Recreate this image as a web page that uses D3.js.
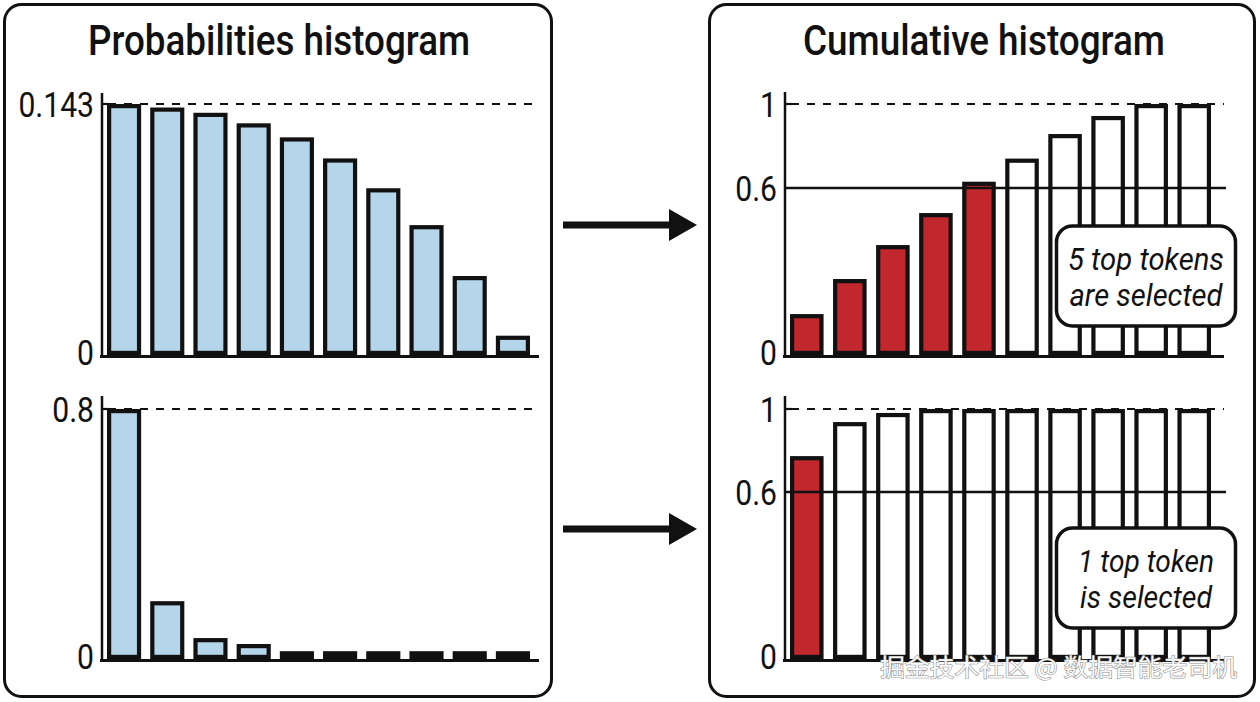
<!DOCTYPE html>
<html><head><meta charset="utf-8">
<script src="https://cdn.jsdelivr.net/npm/d3@7"></script>
<style>html,body{margin:0;padding:0;background:#fff;}svg{display:block;}</style>
</head><body>
<svg id="c" width="1260" height="702"></svg>
<script>
// ---- data ----
const tokens = ["t1","t2","t3","t4","t5","t6","t7","t8","t9","t10"];
const probsFlat = [0.143, 0.141, 0.138, 0.132, 0.124, 0.112, 0.095, 0.074, 0.045, 0.011];
const cumFlat   = [0.147, 0.273, 0.395, 0.51, 0.63, 0.74, 0.857, 0.943, 1, 1];
const probsPeak = [0.8, 0.185, 0.067, 0.048, 0.025, 0.025, 0.025, 0.025, 0.025, 0.025];
const cumPeak   = [0.773, 0.937, 0.981, 1, 1, 1, 1, 1, 1, 1];
const selectedFlat = 5, selectedPeak = 1;
const flatTicks = [0, 0.143], peakTicks = [0, 0.8];
const cumTicks = [0, 0.6, 1];
const tickFmt = {0:"0",0.143:"0.143",0.8:"0.8",0.6:"0.6",1:"1"};
const titles = ["Probabilities histogram", "Cumulative histogram"];
const notes = [["5 top tokens","are selected"],["1 top token","is selected"]];
const watermark = "掘金技术社区 @ 数据智能老司机";

const svg = d3.select("#c");
const BLUE = "#b4d5ea", RED = "#c1272d", INK = "#111";

// panels
[[4.5,4.5,547,692],[709.5,4.5,545,692]].forEach(b=>{
  svg.append("rect").attr("x",b[0]).attr("y",b[1]).attr("width",b[2]).attr("height",b[3])
    .attr("rx",17).attr("fill","#fff").attr("stroke",INK).attr("stroke-width",3);
});
// titles
svg.append("text").attr("x",279).attr("y",55).attr("text-anchor","middle")
  .attr("font-family","Roboto").attr("font-weight",500).attr("font-size",42)
  .attr("textLength",382).attr("lengthAdjust","spacingAndGlyphs").attr("fill",INK).text(titles[0]);
svg.append("text").attr("x",984).attr("y",55).attr("text-anchor","middle")
  .attr("font-family","Roboto").attr("font-weight",500).attr("font-size",42)
  .attr("textLength",362).attr("lengthAdjust","spacingAndGlyphs").attr("fill",INK).text(titles[1]);

function label(x, y, t){
  svg.append("g").attr("transform",`translate(${x},${y}) scale(0.86,1)`)
    .append("text").attr("text-anchor","end").attr("dy","0.36em")
    .attr("font-family","Roboto").attr("font-size",35).attr("fill",INK).text(t);
}

function chart(opt){
  const {values, y, x, axisX, axisTop, xEnd, ticks, fillFn, refDashed, refSolid, linesOnTop} = opt;
  const y0 = y(0);
  const drawRefs = ()=>{
    svg.append("line").attr("x1",axisX).attr("x2",xEnd).attr("y1",y(refDashed)).attr("y2",y(refDashed))
      .attr("stroke",INK).attr("stroke-width",2.2).attr("stroke-dasharray","8,8").attr("stroke-dashoffset",-6);
    if(refSolid!==undefined){
      svg.append("line").attr("x1",axisX).attr("x2",xEnd+2).attr("y1",y(refSolid)).attr("y2",y(refSolid))
        .attr("stroke",INK).attr("stroke-width",2.5);
    }
  };
  if(!linesOnTop) drawRefs();
  // bars
  const sw = 4.2;
  svg.append("g").selectAll("rect").data(values).join("rect")
    .attr("x",(d,i)=>x(tokens[i])+sw/2)
    .attr("width",x.bandwidth()-sw)
    .attr("y",d=>y(d)+sw/2)
    .attr("height",d=>Math.max(0.01, y0-y(d)-sw))
    .attr("fill",(d,i)=>fillFn(i)).attr("stroke",INK).attr("stroke-width",sw);
  if(linesOnTop) drawRefs();
  // axis
  svg.append("line").attr("x1",axisX).attr("x2",axisX).attr("y1",axisTop).attr("y2",y0+1.5)
    .attr("stroke",INK).attr("stroke-width",2.5);
  svg.append("line").attr("x1",axisX).attr("x2",axisX+7).attr("y1",y(refDashed)).attr("y2",y(refDashed))
    .attr("stroke",INK).attr("stroke-width",2.2);
  svg.append("line").attr("x1",axisX-2).attr("x2",xEnd).attr("y1",y0+1.5).attr("y2",y0+1.5)
    .attr("stroke",INK).attr("stroke-width",3);
  ticks.forEach(t=>label(axisX-8, y(t)-(t===0?3:0), tickFmt[t]));
}

const xLeft = d3.scaleBand().domain(tokens).range([107,530]).paddingInner(0.21);
const xRight = d3.scaleBand().domain(tokens).range([790,1211]).paddingInner(0.22);

chart({values:probsFlat, y:d3.scaleLinear().domain([0,0.143]).range([355,104]), x:xLeft,
  axisX:102, axisTop:93, xEnd:539, ticks:flatTicks, fillFn:()=>BLUE, refDashed:0.143});
chart({values:probsPeak, y:d3.scaleLinear().domain([0,0.8]).range([659,409]), x:xLeft,
  axisX:102, axisTop:396, xEnd:539, ticks:peakTicks, fillFn:()=>BLUE, refDashed:0.8});
chart({values:cumFlat, y:d3.scaleLinear().domain(cumTicks).range([355,188,104]), x:xRight,
  axisX:785, axisTop:92, xEnd:1224, ticks:cumTicks, fillFn:i=>i<selectedFlat?RED:"#fff", refDashed:1, refSolid:0.6, linesOnTop:true});
chart({values:cumPeak, y:d3.scaleLinear().domain(cumTicks).range([659,492,409]), x:xRight,
  axisX:785, axisTop:396, xEnd:1224, ticks:cumTicks, fillFn:i=>i<selectedPeak?RED:"#fff", refDashed:1, refSolid:0.6, linesOnTop:true});

// annotation boxes
[[226,notes[0],[156,153]],[528,notes[1],[136,132]]].forEach(([top,lines,lens])=>{
  svg.append("rect").attr("x",1056.5).attr("y",top).attr("width",179).attr("height",100)
    .attr("rx",16).attr("fill","#fff").attr("stroke",INK).attr("stroke-width",3.5);
  lines.forEach((l,i)=>{
    svg.append("text").attr("x",1146).attr("y",top+44+i*36).attr("text-anchor","middle")
      .attr("font-family","Roboto").attr("font-style","italic").attr("font-size",31)
      .attr("textLength",lens[i]).attr("lengthAdjust","spacingAndGlyphs").attr("fill",INK).text(l);
  });
});

// arrows
[225,529].forEach(yy=>{
  svg.append("path").attr("d",`M563,${yy-3.5}H669V${yy-16}L697,${yy}L669,${yy+16}V${yy+3.5}H563Z`).attr("fill",INK);
});

// watermark
svg.append("text").attr("x",1237).attr("y",676).attr("text-anchor","end")
  .attr("font-family","Noto Sans CJK SC").attr("font-size",24)
  .attr("fill","#fafafa").attr("stroke","#8c8c8c").attr("stroke-width",1.1)
  .attr("paint-order","stroke").attr("textLength",357).attr("lengthAdjust","spacingAndGlyphs")
  .text(watermark);
</script>
</body></html>
